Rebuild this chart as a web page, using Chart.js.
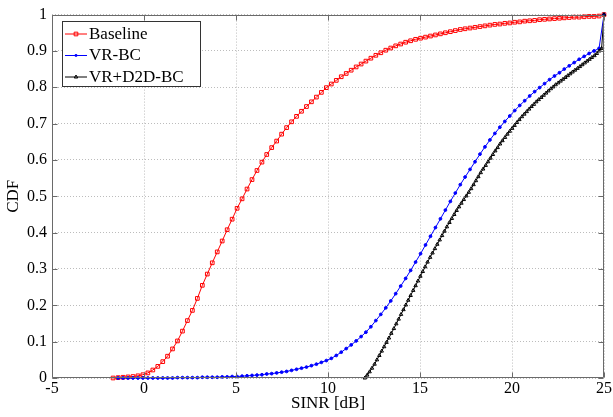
<!DOCTYPE html>
<html>
<head>
<meta charset="utf-8">
<script src="https://cdn.jsdelivr.net/npm/chart.js@4.4.0/dist/chart.umd.min.js"></script>
<style>
 html, body { margin: 0; padding: 0; background: #fff; }
 #wrap { width: 613px; height: 417px; }
</style>
</head>
<body>
<div id="wrap"><canvas id="cdfChart" width="613" height="417"></canvas></div>
<script>
// SINR sample points (dB) shared by Baseline and VR-BC
var sinrGrid = [
 -1.68, -1.41, -1.14, -0.87, -0.60, -0.33, -0.06, 0.21, 0.48, 0.75,
 1.02, 1.28, 1.55, 1.82, 2.09, 2.36, 2.63, 2.90, 3.17, 3.44,
 3.71, 3.98, 4.25, 4.52, 4.79, 5.06, 5.33, 5.60, 5.87, 6.14,
 6.41, 6.67, 6.94, 7.21, 7.48, 7.75, 8.02, 8.29, 8.56, 8.83,
 9.10, 9.37, 9.64, 9.91, 10.18, 10.45, 10.72, 10.99, 11.26, 11.53,
 11.80, 12.06, 12.33, 12.60, 12.87, 13.14, 13.41, 13.68, 13.95, 14.22,
 14.49, 14.76, 15.03, 15.30, 15.57, 15.84, 16.11, 16.38, 16.65, 16.92,
 17.19, 17.45, 17.72, 17.99, 18.26, 18.53, 18.80, 19.07, 19.34, 19.61,
 19.88, 20.15, 20.42, 20.69, 20.96, 21.23, 21.50, 21.77, 22.04, 22.31,
 22.58, 22.84, 23.11, 23.38, 23.65, 23.92, 24.19, 24.46, 24.73, 25.00
];

var baselineCdf = [
 0.000, 0.001, 0.002, 0.003, 0.004, 0.006, 0.009, 0.014, 0.022, 0.032,
 0.045, 0.060, 0.080, 0.102, 0.129, 0.158, 0.186, 0.219, 0.255, 0.286,
 0.317, 0.347, 0.377, 0.408, 0.437, 0.467, 0.493, 0.520, 0.546, 0.571,
 0.594, 0.615, 0.634, 0.652, 0.671, 0.689, 0.705, 0.720, 0.734, 0.747,
 0.760, 0.773, 0.786, 0.799, 0.809, 0.819, 0.829, 0.838, 0.847, 0.856,
 0.864, 0.872, 0.880, 0.888, 0.895, 0.902, 0.908, 0.914, 0.919, 0.924,
 0.928, 0.932, 0.935, 0.938, 0.941, 0.944, 0.947, 0.950, 0.953, 0.956,
 0.959, 0.961, 0.963, 0.965, 0.967, 0.969, 0.971, 0.973, 0.974, 0.976,
 0.977, 0.979, 0.980, 0.982, 0.983, 0.984, 0.986, 0.987, 0.988, 0.989,
 0.990, 0.991, 0.992, 0.993, 0.993, 0.994, 0.995, 0.995, 0.996, 1.000
];

// VR-BC starts one grid step later (sinrGrid[1] onwards)
var vrbcCdf = [
 0.000, 0.000, 0.000, 0.000, 0.000, 0.000, 0.000, 0.000, 0.000,
 0.000, 0.000, 0.000, 0.001, 0.001, 0.001, 0.001, 0.001, 0.002, 0.002,
 0.002, 0.002, 0.003, 0.003, 0.004, 0.004, 0.005, 0.006, 0.007, 0.008,
 0.009, 0.011, 0.012, 0.014, 0.016, 0.018, 0.021, 0.024, 0.027, 0.030,
 0.034, 0.038, 0.043, 0.048, 0.054, 0.062, 0.071, 0.081, 0.091, 0.102,
 0.114, 0.126, 0.141, 0.158, 0.175, 0.193, 0.212, 0.232, 0.253, 0.274,
 0.296, 0.319, 0.342, 0.366, 0.390, 0.414, 0.438, 0.462, 0.486, 0.509,
 0.532, 0.553, 0.574, 0.595, 0.616, 0.636, 0.655, 0.673, 0.690, 0.706,
 0.721, 0.736, 0.750, 0.763, 0.776, 0.788, 0.799, 0.810, 0.821, 0.831,
 0.840, 0.850, 0.859, 0.868, 0.877, 0.885, 0.893, 0.900, 0.907, 1.000
];

var d2dSinr = [
 12.00, 12.13, 12.26, 12.39, 12.53, 12.66, 12.79, 12.92, 13.05, 13.18,
 13.31, 13.44, 13.58, 13.71, 13.84, 13.97, 14.10, 14.23, 14.36, 14.49,
 14.63, 14.76, 14.89, 15.02, 15.15, 15.28, 15.41, 15.55, 15.68, 15.81,
 15.94, 16.07, 16.20, 16.33, 16.46, 16.60, 16.73, 16.86, 16.99, 17.12,
 17.25, 17.38, 17.52, 17.65, 17.78, 17.91, 18.04, 18.17, 18.30, 18.43,
 18.57, 18.70, 18.83, 18.96, 19.09, 19.22, 19.35, 19.48, 19.62, 19.75,
 19.88, 20.01, 20.14, 20.27, 20.40, 20.54, 20.67, 20.80, 20.93, 21.06,
 21.19, 21.32, 21.45, 21.59, 21.72, 21.85, 21.98, 22.11, 22.24, 22.37,
 22.51, 22.64, 22.77, 22.90, 23.03, 23.16, 23.29, 23.42, 23.56, 23.69,
 23.82, 23.95, 24.08, 24.21, 24.34, 24.48, 24.61, 24.74, 24.87, 25.00
];

var d2dCdf = [
 0.000, 0.008, 0.017, 0.027, 0.038, 0.050, 0.062, 0.074, 0.086, 0.098,
 0.110, 0.123, 0.136, 0.149, 0.162, 0.175, 0.188, 0.201, 0.214, 0.227,
 0.241, 0.254, 0.267, 0.280, 0.293, 0.306, 0.319, 0.332, 0.344, 0.356,
 0.368, 0.380, 0.392, 0.404, 0.416, 0.428, 0.439, 0.450, 0.461, 0.471,
 0.481, 0.491, 0.501, 0.511, 0.521, 0.532, 0.543, 0.554, 0.565, 0.575,
 0.585, 0.595, 0.605, 0.615, 0.625, 0.634, 0.644, 0.653, 0.662, 0.671,
 0.679, 0.687, 0.695, 0.703, 0.711, 0.719, 0.726, 0.733, 0.740, 0.747,
 0.753, 0.760, 0.766, 0.772, 0.778, 0.784, 0.790, 0.796, 0.801, 0.807,
 0.812, 0.817, 0.822, 0.827, 0.832, 0.837, 0.842, 0.847, 0.852, 0.857,
 0.862, 0.867, 0.872, 0.877, 0.882, 0.887, 0.893, 0.900, 0.907, 1.000
];

var seriesNames = ["Baseline", "VR-BC", "VR+D2D-BC"];
var sinrTicks = [-5, 0, 5, 10, 15, 20, 25];
var cdfTicks = [0, 0.1, 0.2, 0.3, 0.4, 0.5, 0.6, 0.7, 0.8, 0.9, 1];

var serif = "'Liberation Serif', 'Times New Roman', serif";

function toPoints(xs, ys) {
 return ys.map(function (y, i) {
  return { x: xs[i], y: y };
 });
}

var datasets = [
 {
  label: seriesNames[0],
  data: toPoints(sinrGrid, baselineCdf),
  borderColor: "#ff0000",
  pointStyle: "rect",
  pointRadius: 2.6,
  pointBorderColor: "#ff0000",
  pointBackgroundColor: "rgba(255,255,255,0)",
  order: 3,
 },
 {
  label: seriesNames[1],
  data: toPoints(sinrGrid.slice(1), vrbcCdf),
  borderColor: "#0000ff",
  pointStyle: "circle",
  pointRadius: 1.4,
  pointBorderColor: "#0000ff",
  pointBackgroundColor: "#0000ff",
  order: 2,
 },
 {
  label: seriesNames[2],
  data: toPoints(d2dSinr, d2dCdf),
  borderColor: "#000000",
  pointStyle: "triangle",
  pointRadius: 2,
  pointBorderColor: "#000000",
  pointBackgroundColor: "rgba(0,0,0,0)",
  order: 1,
 },
];
datasets.forEach(function (ds) {
 ds.showLine = true;
 ds.borderWidth = 1;
 ds.pointBorderWidth = 1;
 ds.tension = 0;
 ds.clip = 8;
});

// box round the axes plus the small inward ticks, matlab style
var axesFrame = {
 id: "axesFrame",
 afterDatasetsDraw: function (chart) {
  var c = chart.ctx;
  var a = chart.chartArea;
  var xs = chart.scales.x;
  var ys = chart.scales.y;
  var L = Math.round(a.left) + 0.5, R = Math.round(a.right) - 0.5;
  var T = Math.round(a.top) + 0.5, B = Math.round(a.bottom) - 0.5;
  c.save();
  c.strokeStyle = "#6a6a6a";
  c.lineWidth = 1;
  c.beginPath();
  c.rect(L, T, R - L, B - T);
  sinrTicks.forEach(function (v) {
   var px = Math.round(xs.getPixelForValue(v)) + 0.5;
   c.moveTo(px, B); c.lineTo(px, B - 5);
   c.moveTo(px, T); c.lineTo(px, T + 5);
  });
  cdfTicks.forEach(function (v) {
   var py = Math.round(ys.getPixelForValue(v)) + 0.5;
   c.moveTo(L, py); c.lineTo(L + 5, py);
   c.moveTo(R, py); c.lineTo(R - 5, py);
  });
  c.stroke();
  c.restore();
 },
};

function drawMarker(c, style, x, y, r) {
 c.beginPath();
 if (style === "rect") {
  var s = r * Math.SQRT1_2;
  c.rect(x - s, y - s, 2 * s, 2 * s);
  c.stroke();
 } else if (style === "circle") {
  c.arc(x, y, r, 0, Math.PI * 2);
  c.fill();
 } else {
  c.moveTo(x, y - r);
  c.lineTo(x + r * 0.87, y + r * 0.5);
  c.lineTo(x - r * 0.87, y + r * 0.5);
  c.closePath();
  c.stroke();
 }
}

var insideLegend = {
 id: "insideLegend",
 afterDraw: function (chart) {
  var c = chart.ctx;
  var rows = [33.5, 55, 76.5];
  c.save();
  c.fillStyle = "#ffffff";
  c.fillRect(62, 21, 138, 65);
  c.strokeStyle = "#333333";
  c.lineWidth = 1;
  c.strokeRect(62.5, 21.5, 138, 65);
  c.font = "17px " + serif;
  c.textBaseline = "middle";
  c.textAlign = "left";
  datasets.forEach(function (ds, i) {
   var y = rows[i] + 0.5;
   c.strokeStyle = ds.borderColor;
   c.fillStyle = ds.borderColor;
   c.beginPath();
   c.moveTo(65, y);
   c.lineTo(87, y);
   c.stroke();
   drawMarker(c, ds.pointStyle, 76, y, ds.pointRadius);
   c.fillStyle = "#000";
   c.fillText(ds.label, 89, rows[i] + 1);
  });
  c.restore();
 },
};

var tickFont = { family: serif, size: 16 };
var titleFont = { family: serif, size: 17 };

var ctx = document.getElementById("cdfChart");

new Chart(ctx, {
 type: "scatter",
 data: { datasets: datasets },
 options: {
  responsive: false,
  animation: false,
  devicePixelRatio: 1,
  layout: { padding: { top: 12.5, right: 9, left: 0, bottom: 0 } },
  plugins: {
   legend: { display: false },
   tooltip: { enabled: false },
  },
  scales: {
   x: {
    type: "linear",
    min: -5,
    max: 25,
    afterBuildTicks: function (scale) {
     scale.ticks = sinrTicks.map(function (v) { return { value: v }; });
    },
    afterFit: function (scale) {
     scale.height = 39;
    },
    ticks: {
     color: "#000",
     font: tickFont,
     padding: 1,
     maxRotation: 0,
     autoSkip: false,
     callback: function (v) { return String(v); },
    },
    grid: { color: "#bcbcbc", lineWidth: 1, drawTicks: false },
    border: { display: false, dash: [1, 2] },
    title: {
     display: true,
     text: "SINR [dB]",
     color: "#000",
     font: titleFont,
     padding: { top: 0, bottom: 3 },
    },
   },
   y: {
    type: "linear",
    min: 0,
    max: 1,
    afterBuildTicks: function (scale) {
     scale.ticks = cdfTicks.map(function (v) { return { value: v }; });
    },
    afterFit: function (scale) {
     scale.width = 52;
    },
    ticks: {
     color: "#000",
     font: tickFont,
     padding: 5,
     autoSkip: false,
     callback: function (v) { return String(Math.round(v * 10) / 10); },
    },
    grid: { color: "#bcbcbc", lineWidth: 1, drawTicks: false },
    border: { display: false, dash: [1, 2] },
    title: {
     display: true,
     text: "CDF",
     color: "#000",
     font: titleFont,
     padding: { top: 3, bottom: 0 },
    },
   },
  },
 },
 plugins: [axesFrame, insideLegend],
});
</script>
</body>
</html>
